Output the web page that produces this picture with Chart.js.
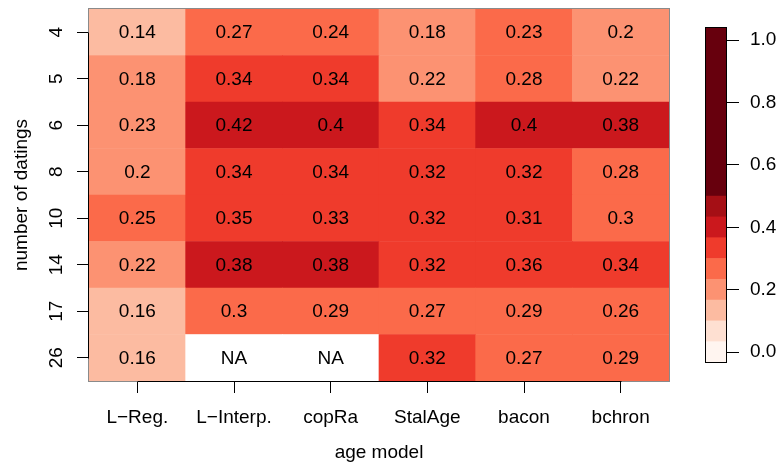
<!DOCTYPE html>
<html>
<head>
<meta charset="utf-8">
<script src="https://cdn.jsdelivr.net/npm/chart.js@4/dist/chart.umd.min.js"></script>
<style>
  html, body { margin: 0; padding: 0; background: #ffffff; }
  #wrap { position: relative; width: 780px; height: 465px; }
  #main { position: absolute; left: 0; top: 0; }
  #bar { position: absolute; left: 705px; top: 0; }
</style>
</head>
<body>
<div id="wrap">
  <canvas id="main" width="780" height="465"></canvas>
  <canvas id="bar" width="75" height="465"></canvas>
</div>
<script>
// ---- data ----
const models = ['L\u2212Reg.', 'L\u2212Interp.', 'copRa', 'StalAge', 'bacon', 'bchron'];
const datings = [4, 5, 6, 8, 10, 14, 17, 26];
// values per age model, rows in the order of `datings` (null = NA)
const lReg     = [0.14, 0.18, 0.226, 0.2, 0.25, 0.22, 0.16, 0.16];
const lInterp  = [0.27, 0.34, 0.42, 0.34, 0.35, 0.38, 0.298, null];
const copRa    = [0.24, 0.34, 0.4, 0.34, 0.33, 0.38, 0.29, null];
const stalAge  = [0.18, 0.22, 0.34, 0.32, 0.32, 0.32, 0.27, 0.32];
const bacon    = [0.234, 0.28, 0.4, 0.32, 0.31, 0.36, 0.29, 0.27];
const bchron   = [0.2, 0.22, 0.38, 0.28, 0.298, 0.34, 0.26, 0.29];
const columns = [lReg, lInterp, copRa, stalAge, bacon, bchron];
// colour scale
const breaks = [-0.035, 1/30, 3/30, 5/30, 7/30, 9/30, 11/30, 13/30, 15/30, 1.042];
const palette = ['#FFF5F0', '#FEE0D2', '#FCBBA1', '#FC9272', '#FB6A4A', '#EF3B2C', '#CB181D', '#A50F15', '#67000D'];
const barTicks = [0, 0.2, 0.4, 0.6, 0.8, 1.0];

const FONT = '"Liberation Sans", Arial, Helvetica, sans-serif';
Chart.defaults.font.family = FONT;
Chart.defaults.color = '#000';

function colorFor(v) {
  if (v === null || v === undefined) return '#FFFFFF';
  let idx = 0;
  for (let i = 1; i < breaks.length - 1; i++) if (v > breaks[i]) idx = i;
  return palette[idx];
}
function fmt(v) {
  if (v === null || v === undefined) return 'NA';
  return String(Number(v.toFixed(2)));
}

// rows drawn bottom to top: datings reversed
const nRows = datings.length;
const datasets = [];
for (let k = 0; k < nRows; k++) {
  const rowIdx = nRows - 1 - k;
  datasets.push({
    label: String(datings[rowIdx]),
    data: models.map(() => 1),
    values: columns.map(col => col[rowIdx]),
    backgroundColor: columns.map(col => colorFor(col[rowIdx])),
    borderWidth: 0,
    barPercentage: 1,
    categoryPercentage: 1
  });
}

const heatPlugin = {
  id: 'heatDeco',
  afterDatasetsDraw(chart) {
    const ctx = chart.ctx;
    ctx.save();
    ctx.font = '19px ' + FONT;
    ctx.fillStyle = '#000';
    ctx.textAlign = 'center';
    ctx.textBaseline = 'middle';
    chart.data.datasets.forEach((ds, di) => {
      const meta = chart.getDatasetMeta(di);
      meta.data.forEach((el, i) => {
        const c = el.getCenterPoint();
        ctx.fillText(fmt(ds.values[i]), c.x, c.y + 1);
      });
    });
    ctx.restore();
  },
  afterDraw(chart) {
    const ctx = chart.ctx;
    const ca = chart.chartArea;
    const xs = chart.scales.x, ys = chart.scales.y;
    ctx.save();
    // grey box
    ctx.strokeStyle = '#8a8a8a';
    ctx.lineWidth = 1;
    ctx.strokeRect(Math.round(ca.left) - 0.5, Math.round(ca.top) - 0.5,
                   Math.round(ca.right - ca.left) + 1, Math.round(ca.bottom - ca.top) + 1);
    // axis lines (R style: first to last tick)
    ctx.strokeStyle = '#000';
    ctx.beginPath();
    const yb = Math.round(ca.bottom) + 0.5;
    ctx.moveTo(Math.round(xs.getPixelForValue(0)) + 0.5, yb);
    ctx.lineTo(Math.round(xs.getPixelForValue(models.length - 1)) + 0.5, yb);
    const xl = Math.round(ca.left) - 0.5;
    ctx.moveTo(xl, Math.round(ys.getPixelForValue(nRows - 0.5)) + 0.5);
    ctx.lineTo(xl, Math.round(ys.getPixelForValue(0.5)) + 0.5);
    ctx.stroke();
    // y tick labels, rotated
    ctx.font = '19px ' + FONT;
    ctx.fillStyle = '#000';
    ctx.textAlign = 'center';
    ctx.textBaseline = 'alphabetic';
    ys.ticks.forEach(t => {
      const py = ys.getPixelForValue(t.value);
      const rowIdx = nRows - 1 - Math.floor(t.value);
      ctx.save();
      ctx.translate(62, py);
      ctx.rotate(-Math.PI / 2);
      ctx.fillText(String(datings[rowIdx]), 0, 0);
      ctx.restore();
    });
    // axis titles
    ctx.save();
    ctx.translate(27, (ca.top + ca.bottom) / 2);
    ctx.rotate(-Math.PI / 2);
    ctx.fillText('number of datings', 0, 0);
    ctx.restore();
    ctx.fillText('age model', (ca.left + ca.right) / 2, 458);
    ctx.restore();
  }
};

new Chart(document.getElementById('main'), {
  type: 'bar',
  data: { labels: models, datasets },
  plugins: [heatPlugin],
  options: {
    responsive: false,
    animation: false,
    events: [],
    layout: { padding: { top: 9, right: 111, left: 0, bottom: 0 } },
    plugins: { legend: { display: false }, tooltip: { enabled: false } },
    scales: {
      x: {
        stacked: true,
        offset: true,
        border: { display: false },
        grid: { display: true, offset: false, drawOnChartArea: false, drawTicks: true,
                tickLength: 12, color: '#000', tickColor: '#000', lineWidth: 1 },
        ticks: { font: { size: 19, family: FONT }, color: '#000', padding: 13,
                 maxRotation: 0, minRotation: 0, autoSkip: false },
        afterFit(s) { s.height = 84; }
      },
      y: {
        type: 'linear',
        stacked: true,
        min: 0, max: nRows,
        border: { display: false },
        grid: { display: true, drawOnChartArea: false, drawTicks: true,
                tickLength: 12, color: '#000', tickColor: '#000', lineWidth: 1 },
        ticks: { display: false },
        afterBuildTicks(s) { s.ticks = datings.map((d, i) => ({ value: i + 0.5 })); },
        afterFit(s) { s.width = 89; }
      }
    }
  }
});

// ---- colour bar ----
const barDatasets = palette.map((col, i) => ({
  data: [[breaks[i], breaks[i + 1]]],
  backgroundColor: col,
  borderWidth: 0,
  barPercentage: 1,
  categoryPercentage: 1,
  grouped: false
}));

const boxPlugin = {
  id: 'cbBox',
  afterDraw(chart) {
    const ctx = chart.ctx, ca = chart.chartArea;
    ctx.save();
    ctx.strokeStyle = '#000';
    ctx.lineWidth = 1;
    ctx.strokeRect(Math.round(ca.left) + 0.5, Math.round(ca.top) + 0.5,
                   Math.round(ca.right - ca.left) - 1, Math.round(ca.bottom - ca.top) - 1);
    ctx.restore();
  }
};

new Chart(document.getElementById('bar'), {
  type: 'bar',
  data: { labels: [''], datasets: barDatasets },
  plugins: [boxPlugin],
  options: {
    responsive: false,
    animation: false,
    events: [],
    layout: { padding: { top: 27, bottom: 102, left: 0, right: 0 } },
    plugins: { legend: { display: false }, tooltip: { enabled: false } },
    scales: {
      x: { display: false, offset: true },
      y: {
        type: 'linear',
        position: 'right',
        min: breaks[0], max: breaks[breaks.length - 1],
        border: { display: false },
        grid: { display: true, drawOnChartArea: false, drawTicks: true,
                tickLength: 12, color: '#000', tickColor: '#000', lineWidth: 1 },
        ticks: { font: { size: 19, family: FONT }, color: '#000', padding: 11,
                 callback: v => Number(v).toFixed(1) },
        afterBuildTicks(s) { s.ticks = barTicks.map(v => ({ value: v })); },
        afterFit(s) { s.width = 53; }
      }
    }
  }
});
</script>
</body>
</html>
